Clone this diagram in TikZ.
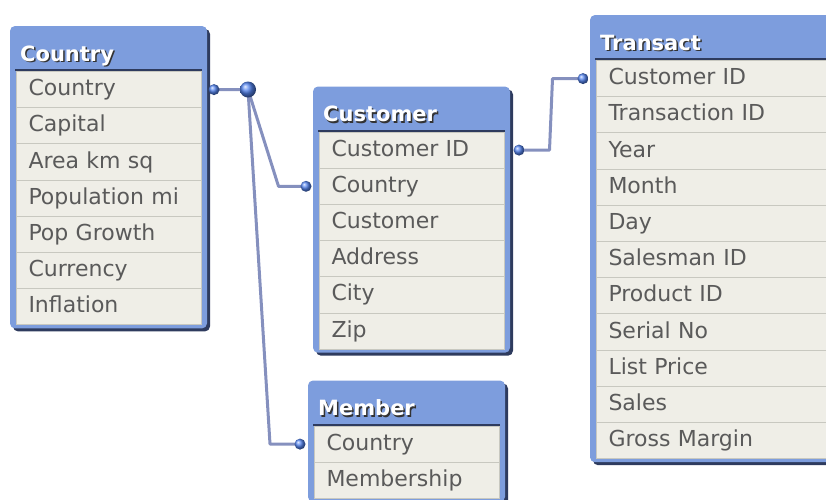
\documentclass[tikz,border=0pt]{standalone}
\usepackage{fontspec}
\setmainfont{DejaVu Sans}
\definecolor{headblue}{HTML}{7D9DDD}
\definecolor{navy}{HTML}{2E3B5E}
\definecolor{rowfill}{HTML}{EFEEE7}
\definecolor{rowline}{HTML}{C8C8C0}
\definecolor{rowtext}{HTML}{5A5A5A}
\definecolor{titleshade}{HTML}{333333}
\definecolor{linkblue}{HTML}{8590BE}
\definecolor{dotblue}{HTML}{5585F0}

\tikzset{
  tabshadow/.style={fill=navy, rounded corners=5pt},
  tabframe/.style={fill=headblue, rounded corners=5pt},
  tabtitle/.style={anchor=base west, inner sep=0pt, text=white,
    font=\bfseries\fontsize{21}{25}\selectfont},
  tabrow/.style={anchor=north west, fill=rowfill, draw=rowline, line width=1pt,
    inner xsep=12pt, inner ysep=0pt, minimum height=36.2pt,
    text height=16pt, text depth=4pt, align=left, text=rowtext,
    font=\fontsize{22}{26}\selectfont},
  tabedge/.style={draw=navy, line width=2pt},
  link/.style={draw=linkblue, line width=3pt, line join=round},
  dot/.style={ball color=dotblue},
}

% #1 name, #2 left, #3 top, #4 width, #5 rows, #6 title, #7 fields
\newcommand{\dbtable}[7]{%
  \pgfmathsetmacro\tabbot{#3+45+#5*36.2}
  \pgfmathsetmacro\rowtw{#4-12-24}
  \fill[tabshadow] (#2+3,#3+3) rectangle (#2+#4+3,\tabbot+7);
  \fill[tabframe] (#2,#3) rectangle (#2+#4,\tabbot+4);
  \node[tabtitle, text=titleshade] (#1-shade) at (#2+11.5,#3+36.5) {#6};
  \node[tabtitle] (#1) at (#2+10,#3+35) {#6};
  \draw[tabedge] (#2+5,#3+44) -- (#2+#4-5,#3+44);
  \foreach \f [count=\i] in {#7}
    \node[tabrow, text width=\rowtw pt] (#1-\i) at (#2+6,#3+45+\i*36.2-36.2) {\f};
}

\begin{document}
\begin{tikzpicture}[x=1pt,y=-1pt]
\clip (0,0) rectangle (826,499);

% tables
\dbtable{country}{10}{26}{197}{7}{Country}{Country,Capital,Area km sq,Population mi,Pop Growth,Currency,Inflation}
\dbtable{customer}{313}{86.5}{197}{6}{Customer}{Customer ID,Country,Customer,Address,City,Zip}
\dbtable{member}{308}{380.5}{197}{2}{Member}{Country,Membership}
\dbtable{transact}{590}{15}{260}{11}{Transact}{Customer ID,Transaction ID,Year,Month,Day,Salesman ID,Product ID,Serial No,List Price,Sales,Gross Margin}

% link ends
\coordinate (cj) at (248,89.5);
\coordinate (co-out) at ([xshift=12pt]country-1.east);
\coordinate (cu-in) at ([xshift=-13pt]customer-2.west);
\coordinate (me-in) at ([xshift=-14pt]member-1.west);
\coordinate (cu-out) at ([xshift=14pt]customer-1.east);
\coordinate (tr-in) at ([xshift=-13pt]transact-1.west);

% links
\draw[link] (co-out) -- (cj);
\draw[link] (cj) -- (278.5,0 |- cu-in) -- (cu-in);
\draw[link] (cj) -- (270,0 |- me-in) -- (me-in);
\draw[link] (cu-out) -- (549.5,0 |- cu-out) -- (552.5,0 |- tr-in) -- (tr-in);

\shade[dot] (co-out) circle (5.5pt);
\shade[dot] (cj) circle (8pt);
\shade[dot] (cu-in) circle (5.5pt);
\shade[dot] (me-in) circle (5.5pt);
\shade[dot] (cu-out) circle (5.5pt);
\shade[dot] (tr-in) circle (5.5pt);
\end{tikzpicture}
\end{document}
